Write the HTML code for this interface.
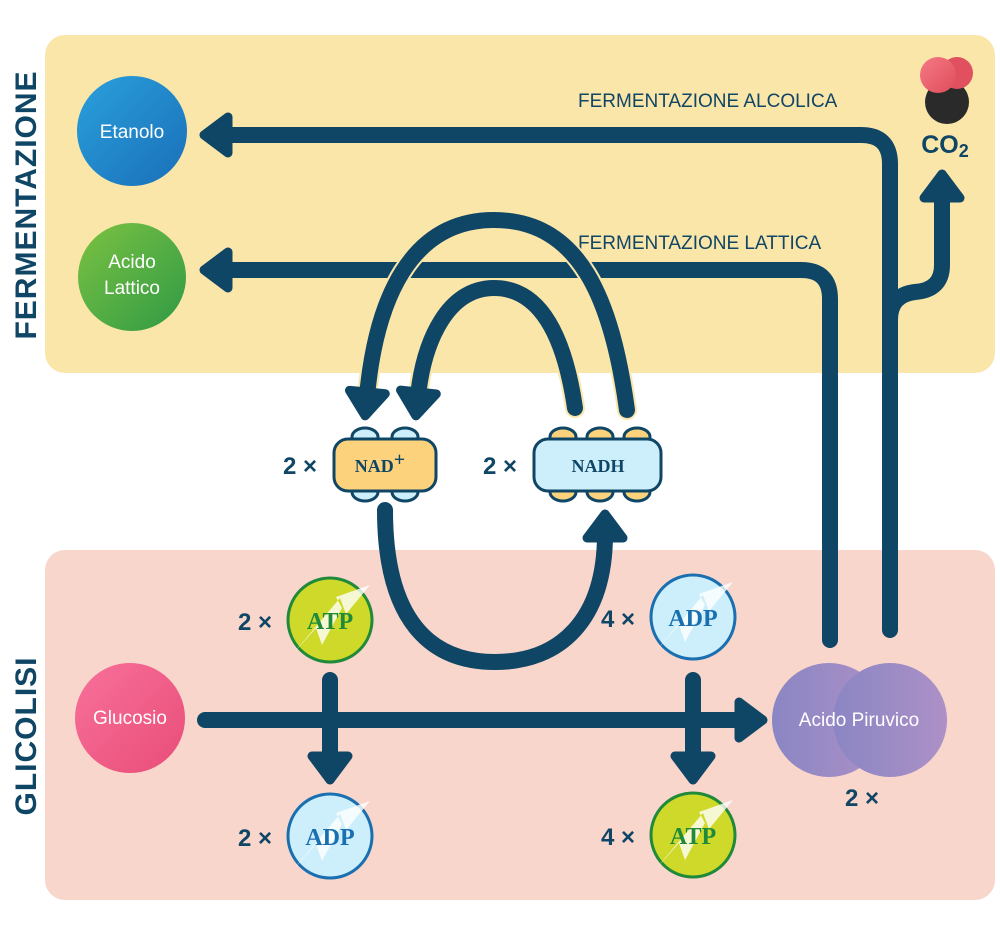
<!DOCTYPE html>
<html><head><meta charset="utf-8"><style>
html,body{margin:0;padding:0;background:#fff;}
svg{display:block;}
text{font-family:"Liberation Sans","DejaVu Sans",sans-serif;}
.ser{font-family:"Liberation Serif","DejaVu Serif",serif;font-weight:bold;}
</style></head><body>
<svg width="1000" height="934" viewBox="0 0 1000 934" xmlns="http://www.w3.org/2000/svg">
<defs>
<linearGradient id="gb" x1="0" y1="0" x2="1" y2="1"><stop offset="0" stop-color="#2aa0dc"/><stop offset="1" stop-color="#1a6fb8"/></linearGradient>
<linearGradient id="gg" x1="0" y1="0" x2="1" y2="1"><stop offset="0" stop-color="#7cc242"/><stop offset="1" stop-color="#2f9a45"/></linearGradient>
<linearGradient id="gp" x1="0" y1="0" x2="1" y2="1"><stop offset="0" stop-color="#f8719a"/><stop offset="1" stop-color="#e84d78"/></linearGradient>
<linearGradient id="gv" x1="0" y1="0" x2="1" y2="0"><stop offset="0" stop-color="#8a86c4"/><stop offset="1" stop-color="#ad90c6"/></linearGradient>
<linearGradient id="gr" x1="0" y1="0" x2="1" y2="1"><stop offset="0" stop-color="#f47a86"/><stop offset="1" stop-color="#e04c5a"/></linearGradient>
<marker id="ah" markerUnits="userSpaceOnUse" markerWidth="60" markerHeight="60" viewBox="-12 -30 50 60" refX="4" refY="0" orient="auto">
<path d="M0,-18 L24,0 L0,18 Z" fill="#0f4565" stroke="#0f4565" stroke-width="9" stroke-linejoin="round"/>
</marker>
</defs>
<rect x="45" y="35" width="950" height="338" rx="20" fill="#fbe6a9"/>
<rect x="45" y="550" width="950" height="350" rx="20" fill="#f9d6cb"/>
<text transform="translate(36,205) rotate(-90)" text-anchor="middle" font-size="30" font-weight="bold" fill="#0f4565" letter-spacing="1">FERMENTAZIONE</text>
<text transform="translate(36,736) rotate(-90)" text-anchor="middle" font-size="30" font-weight="bold" fill="#0f4565" letter-spacing="1">GLICOLISI</text>

<text x="578" y="107" font-size="19" fill="#0f4565">FERMENTAZIONE ALCOLICA</text>
<text x="578" y="249" font-size="19" fill="#0f4565">FERMENTAZIONE LATTICA</text>

<g fill="none" stroke="#0f4565" stroke-width="16" stroke-linecap="round" stroke-linejoin="round">
<path d="M890 630 V164 Q890 135 861 135 H224" marker-end="url(#ah)"/>
<path d="M830 640 V299 Q830 270 801 270 H224" marker-end="url(#ah)"/>
<path d="M890 320 Q890 295 915 292 Q942 290 942 265 V194" marker-end="url(#ah)"/>
</g>
<g fill="none" stroke-linecap="round">
<path d="M627 410 C 612 300, 580 220, 494 220 C 410 220, 376 300, 367 396" stroke="#fbe6a9" stroke-width="20"/>
<path d="M575 408 C 565 340, 542 288, 494 288 C 448 288, 424 340, 418 396" stroke="#fbe6a9" stroke-width="20"/>
</g>
<g fill="none" stroke="#0f4565" stroke-width="16" stroke-linecap="round" stroke-linejoin="round">
<path d="M627 410 C 612 300, 580 220, 494 220 C 410 220, 376 300, 367 396" marker-end="url(#ah)"/>
<path d="M575 408 C 565 340, 542 288, 494 288 C 448 288, 424 340, 418 396" marker-end="url(#ah)"/>
<path d="M385 510 C 385 620, 430 662, 495 662 C 560 662, 605 620, 605 534" marker-end="url(#ah)"/>
<path d="M205 720 H743" marker-end="url(#ah)"/>
<path d="M330 680 V760" marker-end="url(#ah)"/>
<path d="M693 680 V760" marker-end="url(#ah)"/>
</g>

<circle cx="132" cy="131" r="55" fill="url(#gb)"/>
<text x="132" y="138" text-anchor="middle" font-size="19" fill="#fff">Etanolo</text>
<circle cx="132" cy="277" r="54" fill="url(#gg)"/>
<text x="132" y="268" text-anchor="middle" font-size="19" fill="#fff">Acido</text>
<text x="132" y="294" text-anchor="middle" font-size="19" fill="#fff">Lattico</text>
<circle cx="130" cy="718" r="55" fill="url(#gp)"/>
<text x="130" y="724" text-anchor="middle" font-size="19" fill="#fff">Glucosio</text>
<circle cx="829" cy="720" r="57" fill="url(#gv)"/>
<circle cx="890" cy="720" r="57" fill="url(#gv)"/>
<text x="859" y="726" text-anchor="middle" font-size="19" fill="#fff">Acido Piruvico</text>
<text x="862" y="806" text-anchor="middle" font-size="24" font-weight="bold" fill="#0f4565">2 ×</text>

<!-- CO2 -->
<circle cx="947" cy="102" r="22" fill="#2a2a2a"/>
<circle cx="957" cy="73" r="16" fill="#e0505e"/>
<circle cx="938" cy="75" r="18" fill="url(#gr)"/>
<text x="945" y="153" text-anchor="middle" font-size="25" font-weight="bold" fill="#0f4565">CO<tspan font-size="18" dy="4">2</tspan></text>

<!-- NAD+ / NADH -->
<g stroke="#0f4565" stroke-width="3">
<ellipse cx="365" cy="437" rx="13" ry="9" fill="#cdeefb"/>
<ellipse cx="405" cy="437" rx="13" ry="9" fill="#cdeefb"/>
<ellipse cx="365" cy="492" rx="13" ry="9" fill="#cdeefb"/>
<ellipse cx="405" cy="492" rx="13" ry="9" fill="#cdeefb"/>
<rect x="334" y="439" width="102" height="52" rx="14" fill="#fcd27c"/>
<ellipse cx="563" cy="437" rx="13" ry="9" fill="#fcd27c"/>
<ellipse cx="600" cy="437" rx="13" ry="9" fill="#fcd27c"/>
<ellipse cx="637" cy="437" rx="13" ry="9" fill="#fcd27c"/>
<ellipse cx="563" cy="492" rx="13" ry="9" fill="#fcd27c"/>
<ellipse cx="600" cy="492" rx="13" ry="9" fill="#fcd27c"/>
<ellipse cx="637" cy="492" rx="13" ry="9" fill="#fcd27c"/>
<rect x="534" y="439" width="127" height="52" rx="14" fill="#cdeefb"/>
</g>
<text x="380" y="472" text-anchor="middle" class="ser" font-size="18" fill="#0f4565">NAD<tspan font-size="20" dy="-6">+</tspan></text>
<text x="598" y="472" text-anchor="middle" class="ser" font-size="18" fill="#0f4565">NADH</text>
<text x="300" y="474" text-anchor="middle" font-size="24" font-weight="bold" fill="#0f4565">2 ×</text>
<text x="500" y="474" text-anchor="middle" font-size="24" font-weight="bold" fill="#0f4565">2 ×</text>

<!-- ATP/ADP -->
<g>
<circle cx="330" cy="620" r="42" fill="#cfd92a" stroke="#1e8a3a" stroke-width="3"/>
<path d="M292 655 L316 628 L322 645 L342 608 L336 597 L370 585 L346 614 L340 598 Z" fill="#fff" opacity="0.8"/>
<text x="330" y="629" text-anchor="middle" class="ser" font-size="24" fill="#1e8a3a">ATP</text>
<text x="255" y="630" text-anchor="middle" font-size="24" font-weight="bold" fill="#0f4565">2 ×</text>

<circle cx="693" cy="617" r="42" fill="#cdeefb" stroke="#1a6fb0" stroke-width="3"/>
<path d="M655 652 L679 625 L685 642 L705 605 L699 594 L733 582 L709 611 L703 595 Z" fill="#fff" opacity="0.8"/>
<text x="693" y="626" text-anchor="middle" class="ser" font-size="24" fill="#1a6fb0">ADP</text>
<text x="618" y="627" text-anchor="middle" font-size="24" font-weight="bold" fill="#0f4565">4 ×</text>

<circle cx="330" cy="836" r="42" fill="#cdeefb" stroke="#1a6fb0" stroke-width="3"/>
<path d="M292 871 L316 844 L322 861 L342 824 L336 813 L370 801 L346 830 L340 814 Z" fill="#fff" opacity="0.8"/>
<text x="330" y="845" text-anchor="middle" class="ser" font-size="24" fill="#1a6fb0">ADP</text>
<text x="255" y="846" text-anchor="middle" font-size="24" font-weight="bold" fill="#0f4565">2 ×</text>

<circle cx="693" cy="835" r="42" fill="#cfd92a" stroke="#1e8a3a" stroke-width="3"/>
<path d="M655 870 L679 843 L685 860 L705 823 L699 812 L733 800 L709 829 L703 813 Z" fill="#fff" opacity="0.8"/>
<text x="693" y="844" text-anchor="middle" class="ser" font-size="24" fill="#1e8a3a">ATP</text>
<text x="618" y="845" text-anchor="middle" font-size="24" font-weight="bold" fill="#0f4565">4 ×</text>
</g>
</svg>
</body></html>
